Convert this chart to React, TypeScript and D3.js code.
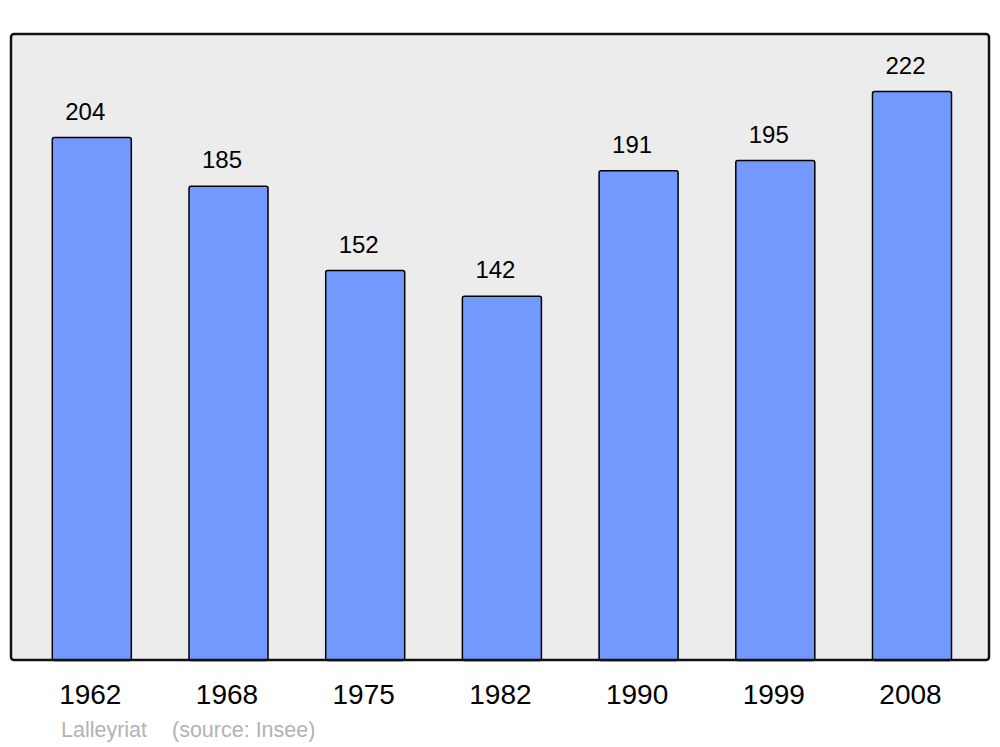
import React from "react";
import * as d3 from "d3";

const years: string[] = ["1962", "1968", "1975", "1982", "1990", "1999", "2008"];
const population: number[] = [204, 185, 152, 142, 191, 195, 222];
const commune = "Lalleyriat";
const sourceLabel = "(source: Insee)";

const W = 1000;
const H = 747;
const FONT = "'Liberation Sans', Arial, Helvetica, sans-serif";

export default function App() {
  const panel = { x: 11, y: 34, w: 978, h: 626 };
  const step = 136.7;
  const start = 23.45;
  const x = d3
    .scaleBand<string>()
    .domain(years)
    .range([start, start + step * years.length])
    .paddingInner(0.422)
    .paddingOuter(0.211);
  const y = d3.scaleLinear().domain([0, 222]).range([659.5, 91.5]);

  return (
    <svg
      width={W}
      height={H}
      style={{ position: "absolute", left: 0, top: 0, background: "#ffffff" }}
      fontFamily={FONT}
    >
      <rect x={0} y={0} width={W} height={H} fill="#ffffff" />
      <rect
        x={panel.x}
        y={panel.y}
        width={panel.w}
        height={panel.h}
        rx={3}
        ry={3}
        fill="#ececec"
        stroke="none"
      />
      {years.map((yr, i) => {
        const bx = x(yr) as number;
        const bw = x.bandwidth();
        const top = y(population[i]);
        return (
          <g key={yr}>
            <rect
              x={bx}
              y={top}
              width={bw}
              height={y(0) - top + 1}
              rx={2}
              ry={2}
              fill="#7399ff"
              stroke="#000"
              strokeWidth={1.5}
            />
            <text
              x={bx + bw / 2 - 6.5}
              y={top - 18}
              fontSize={24}
              textAnchor="middle"
              fill="#000"
            >
              {population[i]}
            </text>
            <text
              x={bx + bw / 2 - 1.5}
              y={704}
              fontSize={28}
              textAnchor="middle"
              fill="#000"
            >
              {yr}
            </text>
          </g>
        );
      })}
      <rect
        x={panel.x}
        y={panel.y}
        width={panel.w}
        height={panel.h}
        rx={3}
        ry={3}
        fill="none"
        stroke="#111"
        strokeWidth={2.5}
      />
      <text x={61} y={737} fontSize={21.5} fill="#b3b3b3">
        {commune}
      </text>
      <text x={172} y={737} fontSize={21.5} fill="#b3b3b3">
        {sourceLabel}
      </text>
    </svg>
  );
}
